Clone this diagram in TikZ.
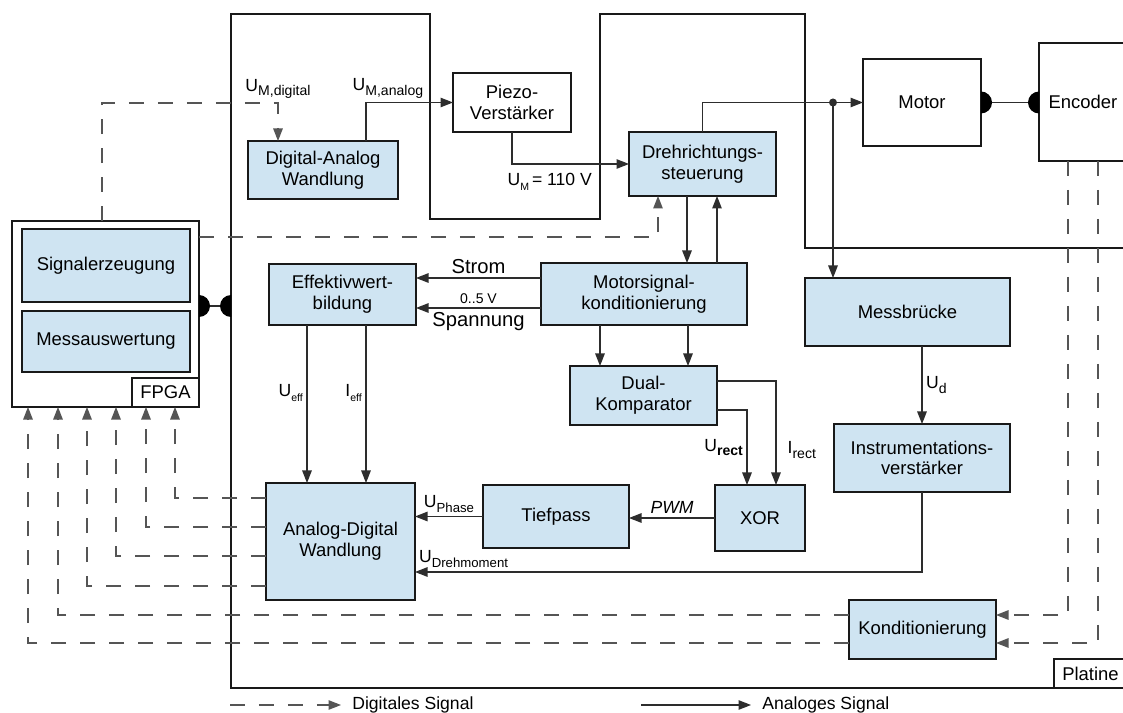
\documentclass[tikz,border=0pt]{standalone}
\usepackage{fontspec}
\setmainfont{Liberation Sans}
\usepackage{tikz}
\usetikzlibrary{arrows.meta,
positioning,
calc}

\definecolor{boxBlue}{RGB}{207,228,242}
\definecolor{wireGray}{RGB}{45,45,45}
\definecolor{busGray}{RGB}{85,85,85}

% signal name with lowered index
\newcommand{\idx}[3][8]{#2\raisebox{-0.28em}{\fontsize{#1}{#1}\selectfont #3}}

\begin{document}
\begin{tikzpicture}[
    x=0.2mm, y=-0.2mm,
    font=\fontsize{10.5}{11.8}\selectfont,
    >={Triangle[length=2.5mm,width=1.9mm]},
    block/.style={
        draw=black!90,
        line width=0.9pt,
        fill=boxBlue,
        align=center,
        inner sep=1pt,
        outer sep=0pt
    },
    blank/.style={
        block,
        fill=white
    },
    flow/.style={
        ->,
        draw=wireGray,
        line width=0.7pt
    },
    digital/.style={
        flow,
        draw=busGray,
        dash pattern=on 8.5pt off 8pt
    },
    sigLabel/.style={
        font=\fontsize{10}{12}\selectfont,
        inner sep=2pt
    },
    legendLabel/.style={
        font=\fontsize{10}{12}\selectfont,
        inner sep=0pt
    }
]

\useasboundingbox (0,0) rectangle (1123,713);

%------------------------------------------------------------------------------
% Board outline (runs on past the right edge)
%------------------------------------------------------------------------------

\draw[line width=0.9pt, black!90]
    (1123,248) -- (805,248) -- (805,14) -- (600,14) -- (600,219)
    -- (430,219) -- (430,14) -- (231,14) -- (231,688) -- (1123,688);

%------------------------------------------------------------------------------
% FPGA
%------------------------------------------------------------------------------

\node[blank, minimum width=37.4mm, minimum height=37.2mm] (fpga) at (105.5,314) {};

\node[block, minimum width=33.6mm, minimum height=14.6mm] (signalGen) at (106,265.5)
    {Signalerzeugung};

\node[block, minimum width=33.6mm, minimum height=12.2mm, below=1.8mm of signalGen] (measEval)
    {Messauswertung};

\node[blank, anchor=south east, minimum width=13.4mm, minimum height=5.8mm] (fpgaLabel)
    at (fpga.south east) {FPGA};

%------------------------------------------------------------------------------
% Blocks on the board
%------------------------------------------------------------------------------

\node[block, minimum width=30mm, minimum height=11.6mm] (dac) at (323,170)
    {Digital-Analog\\Wandlung};

\node[blank, minimum width=23.6mm, minimum height=11.8mm] (piezo) at (512,102.5)
    {Piezo-\\Verstärker};

\node[block, minimum width=29.4mm, minimum height=12.8mm] (direction) at (702.5,164)
    {Drehrichtungs-\\steuerung};

\node[blank, minimum width=23.6mm, minimum height=17.4mm] (motor) at (922,102.5)
    {Motor};

\node[blank, minimum width=17.6mm, minimum height=23.6mm] (encoder) at (1083,102)
    {Encoder};

\node[block, minimum width=29.4mm, minimum height=12.2mm] (rms) at (342.5,294.5)
    {Effektivwert-\\bildung};

\node[block, minimum width=41.2mm, minimum height=12.4mm] (motorCond) at (644,294)
    {Motorsignal-\\konditionierung};

\node[block, minimum width=29.4mm, minimum height=11.8mm] (dualComp) at (643.5,395.5)
    {Dual-\\Komparator};

\node[block, minimum width=41mm, minimum height=13.6mm] (bridge) at (907.5,312)
    {Messbrücke};

\node[block, minimum width=35.2mm, minimum height=13.6mm] (instAmp) at (922,458)
    {Instrumentations-\\verstärker};

\node[block, minimum width=29.8mm, minimum height=23.4mm] (adc) at (340.5,541.5)
    {Analog-Digital\\Wandlung};

\node[block, minimum width=29.2mm, minimum height=12.6mm] (lowpass) at (556,516.5)
    {Tiefpass};

\node[block, minimum width=18mm, minimum height=13.2mm] (xorGate) at (760,518)
    {XOR};

\node[block, minimum width=29.4mm, minimum height=11.8mm] (cond) at (922.5,629.5)
    {Konditionierung};

\node[blank, anchor=south west, minimum width=14.6mm, minimum height=5.8mm] (boardLabel)
    at (1054,688) {Platine};

%------------------------------------------------------------------------------
% Plug connections
%------------------------------------------------------------------------------

\coordinate (boardPort) at (231,306);
\coordinate (fpgaPort) at (fpga.east |- boardPort);

\draw[wireGray, line width=0.7pt] (fpgaPort) -- (boardPort);
\fill (fpgaPort) ++(0pt,2.2mm) arc[start angle=90, end angle=-90, radius=2.2mm] -- cycle;
\fill (boardPort) ++(0pt,2.2mm) arc[start angle=90, end angle=270, radius=2.2mm] -- cycle;

\draw[wireGray, line width=0.7pt] (motor.east) -- (encoder.west |- motor.east);
\fill (motor.east) ++(0pt,2.2mm) arc[start angle=90, end angle=-90, radius=2.2mm] -- cycle;
\fill (encoder.west |- motor.east) ++(0pt,2.2mm) arc[start angle=90, end angle=270, radius=2.2mm] -- cycle;

%------------------------------------------------------------------------------
% Analog signals
%------------------------------------------------------------------------------

\draw[flow] (dac.north -| 366,0) |-
    node[pos=0.5, sigLabel, anchor=south west, xshift=-3.5mm] {\idx{U}{M,analog}}
    (piezo.west);

\draw[flow] (piezo.south) |-
    node[pos=0.5, sigLabel, anchor=north west, xshift=-1.7mm, yshift=-1mm] {\idx[6]{U}{M}\,= 110 V}
    (direction.west);

\coordinate (split) at (motor.west -| 833,0);
\draw[flow] (direction.north) |- (motor.west);
\draw[flow] (split) -- (split |- bridge.north);
\fill[wireGray] (split) circle[radius=0.8mm];

\draw[flow] (direction.south -| 687,0) -- (motorCond.north -| 687,0);
\draw[flow] (motorCond.north -| 717,0) -- (direction.south -| 717,0);

\draw[flow] (motorCond.west |- 0,278) --
    node[above, sigLabel, font=\fontsize{11.5}{13}\selectfont] {Strom}
    (rms.east |- 0,278);
\draw[flow] (motorCond.west |- 0,308) --
    node[above, sigLabel, font=\fontsize{8}{9}\selectfont] {0..5 V}
    node[below, sigLabel, font=\fontsize{11.5}{13}\selectfont] {Spannung}
    (rms.east |- 0,308);

\draw[flow] (motorCond.south -| 600,0) -- (dualComp.north -| 600,0);
\draw[flow] (motorCond.south -| 688,0) -- (dualComp.north -| 688,0);

\draw[flow] (dualComp.east |- 0,381) -|
    node[pos=0.83, right, sigLabel, xshift=1.5mm] {\idx{I}{rect}}
    (xorGate.north -| 776,0);
\draw[flow] (dualComp.east |- 0,410) -|
    node[pos=0.75, left, sigLabel] {\idx{U}{\bfseries rect}}
    (xorGate.north -| 747,0);

\draw[flow] (xorGate.west) --
    node[above, sigLabel, font=\fontsize{10}{12}\selectfont\itshape] {PWM}
    (xorGate.west -| lowpass.east);

\draw[flow] (lowpass.west) --
    node[above, sigLabel] {\idx[7.5]{U}{Phase}}
    (lowpass.west -| adc.east);

\draw[flow] (instAmp.south) |-
    node[pos=1, above right, sigLabel] {\idx[7.5]{U}{Drehmoment}}
    (adc.east |- 0,572);

\draw[flow] (rms.south -| 307,0) --
    node[pos=0.43, left, sigLabel] {\idx[6]{U}{eff}}
    (adc.north -| 307,0);
\draw[flow] (rms.south -| 366,0) --
    node[pos=0.43, left, sigLabel] {\idx[6]{I}{eff}}
    (adc.north -| 366,0);

\draw[flow] (instAmp.north |- bridge.south) --
    node[right, sigLabel] {\idx{U}{d}}
    (instAmp.north);

%------------------------------------------------------------------------------
% Digital signals
%------------------------------------------------------------------------------

\draw[digital] (fpga.north -| 102,0) |- (278,103)
    node[above, sigLabel] {\idx{U}{M,digital}}
    -- (dac.north -| 278,0);

\draw[digital] (fpga.east |- 0,237) -| (direction.south -| 658,0);

\foreach \y/\x in {498/175, 527/146, 556/116, 586/87}
    \draw[digital] (adc.west |- 0,\y) -| (fpga.south -| \x,0);

\foreach \y/\x in {615/58, 643/28}
    \draw[digital] (cond.west |- 0,\y) -| (fpga.south -| \x,0);

\foreach \x/\y in {1068/615, 1098/643}
    \draw[digital] (encoder.south -| \x,0) |- (cond.east |- 0,\y);

%------------------------------------------------------------------------------
% Legend
%------------------------------------------------------------------------------

\coordinate (digitalKey) at (230,705);
\node[legendLabel, anchor=west] (digitalText) at (352,705) {Digitales Signal};
\draw[digital] (digitalKey) -- ([xshift=-2.2mm]digitalText.west);

\coordinate (analogKey) at (641,705);
\node[legendLabel, anchor=west] (analogText) at (762,705) {Analoges Signal};
\draw[flow] (analogKey) -- ([xshift=-2.2mm]analogText.west);

\end{tikzpicture}
\end{document}
